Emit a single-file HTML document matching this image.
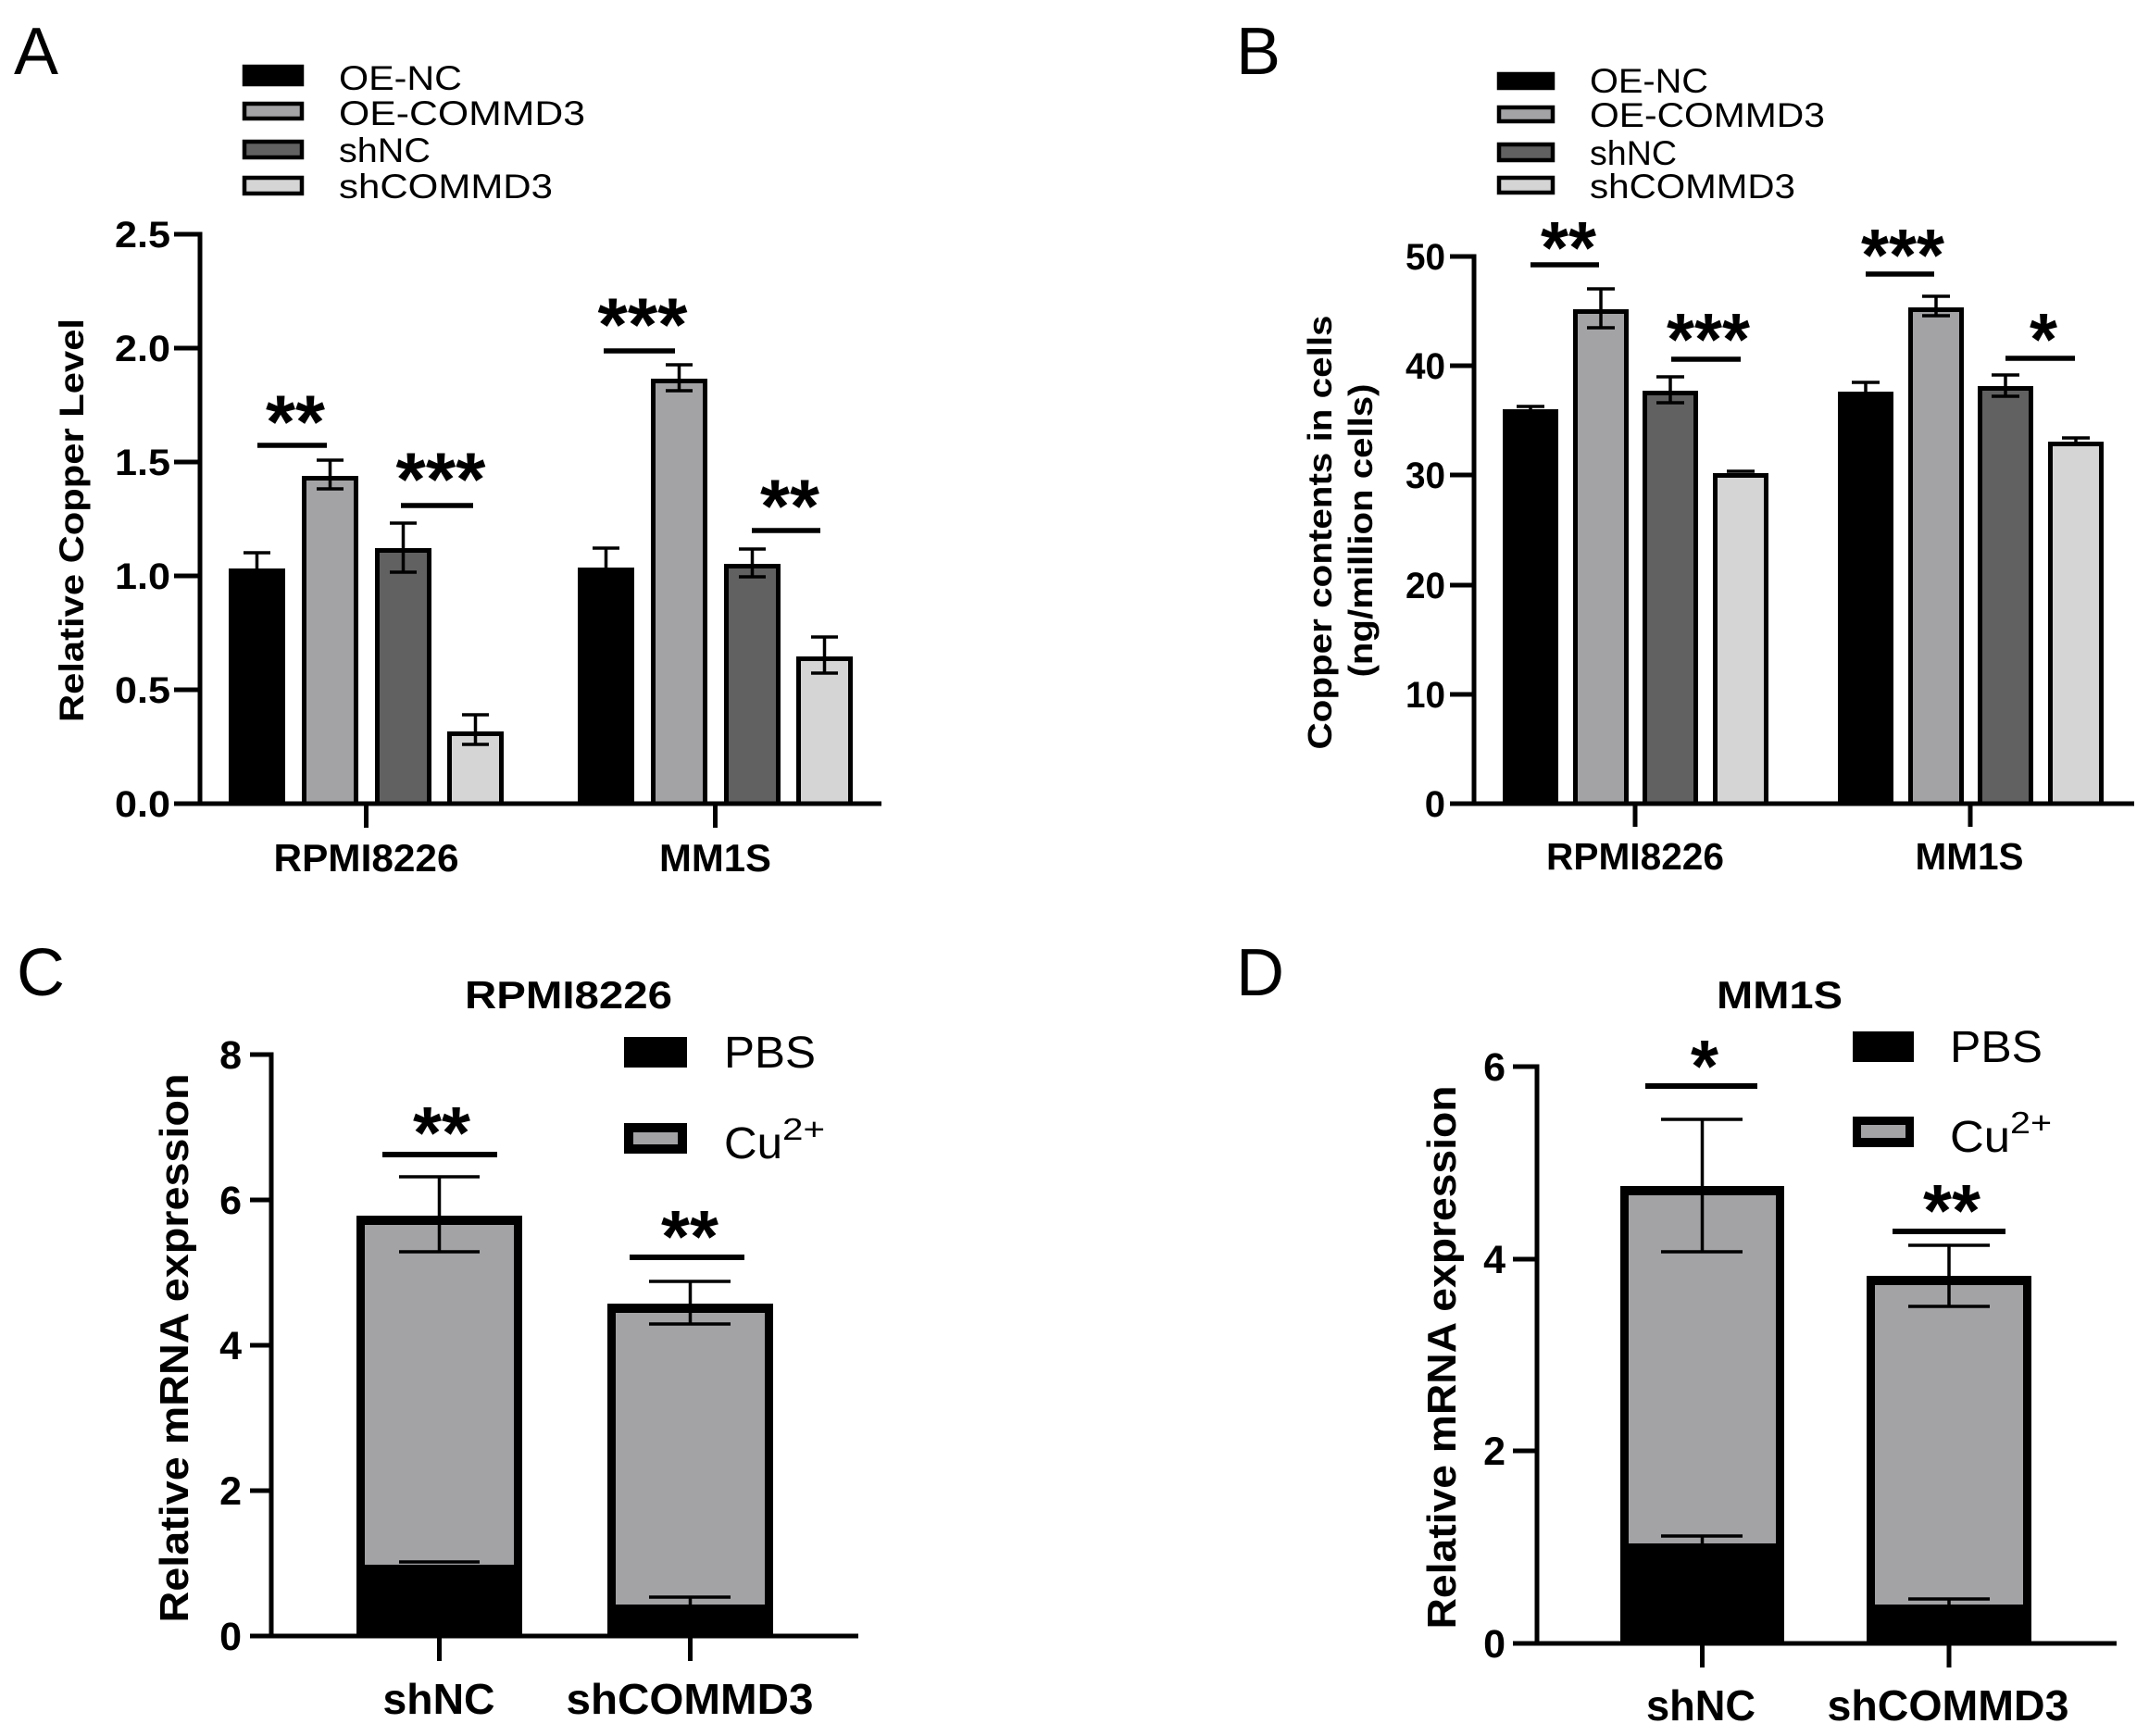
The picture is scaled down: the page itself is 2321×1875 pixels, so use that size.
<!DOCTYPE html>
<html>
<head>
<meta charset="utf-8">
<style>
html,body{margin:0;padding:0;background:#fff;}
svg{display:block;}
text{font-family:"Liberation Sans",Arial,sans-serif;fill:#000;}
.b{font-weight:bold;}
</style>
</head>
<body>
<svg width="2321" height="1875" viewBox="0 0 2321 1875" xmlns="http://www.w3.org/2000/svg">
<rect x="0" y="0" width="2321" height="1875" fill="#fff"/>

<!-- ================= PANEL A ================= -->
<text x="15" y="80" font-size="72">A</text>
<rect x="264" y="72" width="62" height="19" fill="#000" stroke="#000" stroke-width="4.5"/>
<rect x="264" y="112" width="62" height="16" fill="#a3a3a6" stroke="#000" stroke-width="4.5"/>
<rect x="264" y="153" width="62" height="17" fill="#616161" stroke="#000" stroke-width="4.5"/>
<rect x="264" y="192" width="62" height="17" fill="#d5d5d5" stroke="#000" stroke-width="4.5"/>
<text x="366" y="97" font-size="37" textLength="133" lengthAdjust="spacingAndGlyphs">OE-NC</text>
<text x="366" y="135" font-size="37" textLength="266" lengthAdjust="spacingAndGlyphs">OE-COMMD3</text>
<text x="366" y="175" font-size="37" textLength="99" lengthAdjust="spacingAndGlyphs">shNC</text>
<text x="366" y="214" font-size="37" textLength="231" lengthAdjust="spacingAndGlyphs">shCOMMD3</text>

<text class="b" font-size="37" text-anchor="middle" textLength="436" lengthAdjust="spacingAndGlyphs" transform="translate(90,562) rotate(-90)">Relative Copper Level</text>

<g stroke="#000" stroke-width="5" fill="none">
<line x1="216" y1="250.5" x2="216" y2="870.5"/>
<line x1="188" y1="868" x2="952" y2="868"/>
<line x1="188" y1="745" x2="216" y2="745"/>
<line x1="188" y1="622" x2="216" y2="622"/>
<line x1="188" y1="499" x2="216" y2="499"/>
<line x1="188" y1="376" x2="216" y2="376"/>
<line x1="188" y1="253" x2="216" y2="253"/>
<line x1="395.5" y1="868" x2="395.5" y2="894"/>
<line x1="772.5" y1="868" x2="772.5" y2="894"/>
</g>
<g class="b" font-size="40" text-anchor="end">
<text x="184" y="882" textLength="60" lengthAdjust="spacingAndGlyphs">0.0</text>
<text x="184" y="759" textLength="60" lengthAdjust="spacingAndGlyphs">0.5</text>
<text x="184" y="636" textLength="60" lengthAdjust="spacingAndGlyphs">1.0</text>
<text x="184" y="513" textLength="60" lengthAdjust="spacingAndGlyphs">1.5</text>
<text x="184" y="390" textLength="60" lengthAdjust="spacingAndGlyphs">2.0</text>
<text x="184" y="267" textLength="60" lengthAdjust="spacingAndGlyphs">2.5</text>
</g>
<text class="b" x="395.5" y="941" font-size="42" text-anchor="middle" textLength="200" lengthAdjust="spacingAndGlyphs">RPMI8226</text>
<text class="b" x="772.5" y="941" font-size="42" text-anchor="middle" textLength="121" lengthAdjust="spacingAndGlyphs">MM1S</text>

<g stroke="#000" stroke-width="5">
<rect x="249.5" y="616.5" width="56" height="251.5" fill="#000"/>
<rect x="328.5" y="516.5" width="56" height="351.5" fill="#a3a3a6"/>
<rect x="407.5" y="594.5" width="56" height="273.5" fill="#616161"/>
<rect x="485.5" y="792.5" width="56" height="75.5" fill="#d5d5d5"/>
<rect x="626.5" y="615.5" width="56" height="252.5" fill="#000"/>
<rect x="705.5" y="411.5" width="56" height="456.5" fill="#a3a3a6"/>
<rect x="784.5" y="611.5" width="56" height="256.5" fill="#616161"/>
<rect x="862.5" y="711.5" width="56" height="156.5" fill="#d5d5d5"/>
</g>
<g stroke="#000" stroke-width="3.5" fill="none">
<line x1="277.5" y1="597" x2="277.5" y2="616"/><line x1="263" y1="597" x2="292" y2="597"/>
<line x1="356.5" y1="497" x2="356.5" y2="528"/><line x1="342" y1="497" x2="371" y2="497"/><line x1="342" y1="528" x2="371" y2="528"/>
<line x1="435.5" y1="565" x2="435.5" y2="618"/><line x1="421" y1="565" x2="450" y2="565"/><line x1="421" y1="618" x2="450" y2="618"/>
<line x1="513.5" y1="772" x2="513.5" y2="804"/><line x1="499" y1="772" x2="528" y2="772"/><line x1="499" y1="804" x2="528" y2="804"/>
<line x1="654.5" y1="592" x2="654.5" y2="615"/><line x1="640" y1="592" x2="669" y2="592"/>
<line x1="733.5" y1="394" x2="733.5" y2="422"/><line x1="719" y1="394" x2="748" y2="394"/><line x1="719" y1="422" x2="748" y2="422"/>
<line x1="812.5" y1="593" x2="812.5" y2="623"/><line x1="798" y1="593" x2="827" y2="593"/><line x1="798" y1="623" x2="827" y2="623"/>
<line x1="890.5" y1="688" x2="890.5" y2="727"/><line x1="876" y1="688" x2="905" y2="688"/><line x1="876" y1="727" x2="905" y2="727"/>
</g>
<g stroke="#000" stroke-width="5.5">
<line x1="278" y1="481" x2="353" y2="481"/>
<line x1="433" y1="546" x2="511" y2="546"/>
<line x1="652" y1="379" x2="729" y2="379"/>
<line x1="812" y1="573" x2="886" y2="573"/>
</g>
<g class="b" font-size="82" text-anchor="middle">
<text x="319" y="484" textLength="64" lengthAdjust="spacingAndGlyphs">**</text>
<text x="476" y="546" textLength="97" lengthAdjust="spacingAndGlyphs">***</text>
<text x="694" y="379" textLength="97" lengthAdjust="spacingAndGlyphs">***</text>
<text x="853" y="575" textLength="64" lengthAdjust="spacingAndGlyphs">**</text>
</g>

<!-- ================= PANEL B ================= -->
<text x="1335" y="80" font-size="72">B</text>
<rect x="1619" y="80" width="58" height="15" fill="#000" stroke="#000" stroke-width="4.5"/>
<rect x="1619" y="116" width="58" height="15" fill="#a3a3a6" stroke="#000" stroke-width="4.5"/>
<rect x="1619" y="156" width="58" height="17" fill="#616161" stroke="#000" stroke-width="4.5"/>
<rect x="1619" y="192" width="58" height="16" fill="#d5d5d5" stroke="#000" stroke-width="4.5"/>
<text x="1717" y="100" font-size="37" textLength="128" lengthAdjust="spacingAndGlyphs">OE-NC</text>
<text x="1717" y="137" font-size="37" textLength="254" lengthAdjust="spacingAndGlyphs">OE-COMMD3</text>
<text x="1717" y="178" font-size="37" textLength="94" lengthAdjust="spacingAndGlyphs">shNC</text>
<text x="1717" y="214" font-size="37" textLength="222" lengthAdjust="spacingAndGlyphs">shCOMMD3</text>

<text class="b" font-size="36" text-anchor="middle" textLength="469" lengthAdjust="spacingAndGlyphs" transform="translate(1438,575) rotate(-90)">Copper contents in cells</text>
<text class="b" font-size="36" text-anchor="middle" textLength="317" lengthAdjust="spacingAndGlyphs" transform="translate(1482,573) rotate(-90)">(ng/million cells)</text>

<g stroke="#000" stroke-width="5" fill="none">
<line x1="1592" y1="274.5" x2="1592" y2="870.5"/>
<line x1="1566" y1="868" x2="2305" y2="868"/>
<line x1="1566" y1="750" x2="1592" y2="750"/>
<line x1="1566" y1="632" x2="1592" y2="632"/>
<line x1="1566" y1="513" x2="1592" y2="513"/>
<line x1="1566" y1="395" x2="1592" y2="395"/>
<line x1="1566" y1="277" x2="1592" y2="277"/>
<line x1="1766" y1="868" x2="1766" y2="893"/>
<line x1="2128" y1="868" x2="2128" y2="893"/>
</g>
<g class="b" font-size="40" text-anchor="end">
<text x="1561" y="882">0</text>
<text x="1561" y="764" textLength="43" lengthAdjust="spacingAndGlyphs">10</text>
<text x="1561" y="646" textLength="43" lengthAdjust="spacingAndGlyphs">20</text>
<text x="1561" y="527" textLength="43" lengthAdjust="spacingAndGlyphs">30</text>
<text x="1561" y="409" textLength="43" lengthAdjust="spacingAndGlyphs">40</text>
<text x="1561" y="291" textLength="43" lengthAdjust="spacingAndGlyphs">50</text>
</g>
<text class="b" x="1766" y="939" font-size="41" text-anchor="middle" textLength="192" lengthAdjust="spacingAndGlyphs">RPMI8226</text>
<text class="b" x="2127" y="939" font-size="41" text-anchor="middle" textLength="117" lengthAdjust="spacingAndGlyphs">MM1S</text>

<g stroke="#000" stroke-width="5">
<rect x="1625.5" y="444.5" width="55" height="423.5" fill="#000"/>
<rect x="1701.5" y="336.5" width="55" height="531.5" fill="#a3a3a6"/>
<rect x="1776.5" y="424.5" width="55" height="443.5" fill="#616161"/>
<rect x="1852.5" y="513.5" width="55" height="354.5" fill="#d5d5d5"/>
<rect x="1987.5" y="425.5" width="55" height="442.5" fill="#000"/>
<rect x="2063.5" y="334.5" width="55" height="533.5" fill="#a3a3a6"/>
<rect x="2138.5" y="419.5" width="55" height="448.5" fill="#616161"/>
<rect x="2214.5" y="479.5" width="55" height="388.5" fill="#d5d5d5"/>
</g>
<g stroke="#000" stroke-width="3.5" fill="none">
<line x1="1653" y1="439" x2="1653" y2="444"/><line x1="1638" y1="439" x2="1668" y2="439"/>
<line x1="1729" y1="312" x2="1729" y2="354"/><line x1="1714" y1="312" x2="1744" y2="312"/><line x1="1714" y1="354" x2="1744" y2="354"/>
<line x1="1804" y1="407" x2="1804" y2="435"/><line x1="1789" y1="407" x2="1819" y2="407"/><line x1="1789" y1="435" x2="1819" y2="435"/>
<line x1="1865" y1="509" x2="1895" y2="509"/>
<line x1="2015" y1="413" x2="2015" y2="425"/><line x1="2000" y1="413" x2="2030" y2="413"/>
<line x1="2091" y1="320" x2="2091" y2="341"/><line x1="2076" y1="320" x2="2106" y2="320"/><line x1="2076" y1="341" x2="2106" y2="341"/>
<line x1="2166" y1="405" x2="2166" y2="428"/><line x1="2151" y1="405" x2="2181" y2="405"/><line x1="2151" y1="428" x2="2181" y2="428"/>
<line x1="2242" y1="473" x2="2242" y2="479"/><line x1="2227" y1="473" x2="2257" y2="473"/>
</g>
<g stroke="#000" stroke-width="5.5">
<line x1="1653" y1="286" x2="1727" y2="286"/>
<line x1="1805" y1="388" x2="1880" y2="388"/>
<line x1="2015" y1="296" x2="2089" y2="296"/>
<line x1="2166" y1="387" x2="2241" y2="387"/>
</g>
<g class="b" font-size="80" text-anchor="middle">
<text x="1694" y="295" textLength="60" lengthAdjust="spacingAndGlyphs">**</text>
<text x="1845" y="394" textLength="90" lengthAdjust="spacingAndGlyphs">***</text>
<text x="2055" y="303" textLength="90" lengthAdjust="spacingAndGlyphs">***</text>
<text x="2207" y="394" textLength="30" lengthAdjust="spacingAndGlyphs">*</text>
</g>

<!-- ================= PANEL C ================= -->
<text x="18" y="1075" font-size="72">C</text>
<text class="b" x="614" y="1089" font-size="42" text-anchor="middle" textLength="224" lengthAdjust="spacingAndGlyphs">RPMI8226</text>
<rect x="674" y="1120" width="68" height="33" fill="#000"/>
<rect x="674" y="1213" width="68" height="33" fill="#000"/>
<rect x="684" y="1223" width="48" height="13" fill="#a3a3a6"/>
<text x="782" y="1153" font-size="48" textLength="99" lengthAdjust="spacingAndGlyphs">PBS</text>
<text x="782" y="1251" font-size="48" textLength="63" lengthAdjust="spacingAndGlyphs">Cu</text>
<text x="845" y="1231" font-size="33" textLength="46" lengthAdjust="spacingAndGlyphs">2+</text>

<text class="b" font-size="44" text-anchor="middle" textLength="593" lengthAdjust="spacingAndGlyphs" transform="translate(203,1456) rotate(-90)">Relative mRNA expression</text>

<g stroke="#000" stroke-width="5" fill="none">
<line x1="293" y1="1136.5" x2="293" y2="1769.5"/>
<line x1="270" y1="1767" x2="927" y2="1767"/>
<line x1="270" y1="1610" x2="293" y2="1610"/>
<line x1="270" y1="1453" x2="293" y2="1453"/>
<line x1="270" y1="1296" x2="293" y2="1296"/>
<line x1="270" y1="1139" x2="293" y2="1139"/>
<line x1="474.5" y1="1767" x2="474.5" y2="1794"/>
<line x1="745.5" y1="1767" x2="745.5" y2="1794"/>
</g>
<g class="b" font-size="43" text-anchor="end">
<text x="261" y="1782">0</text>
<text x="261" y="1625">2</text>
<text x="261" y="1468">4</text>
<text x="261" y="1311">6</text>
<text x="261" y="1154">8</text>
</g>
<text class="b" x="474" y="1851" font-size="46" text-anchor="middle" textLength="121" lengthAdjust="spacingAndGlyphs">shNC</text>
<text class="b" x="745" y="1851" font-size="46" text-anchor="middle" textLength="267" lengthAdjust="spacingAndGlyphs">shCOMMD3</text>

<rect x="385" y="1313" width="179" height="454" fill="#000"/>
<rect x="394" y="1323" width="161" height="367" fill="#a3a3a6"/>
<rect x="656" y="1408" width="179" height="359" fill="#000"/>
<rect x="665" y="1418" width="161" height="315" fill="#a3a3a6"/>
<g stroke="#000" stroke-width="3.5" fill="none">
<line x1="474.5" y1="1271" x2="474.5" y2="1352"/><line x1="431" y1="1271" x2="518" y2="1271"/><line x1="431" y1="1352" x2="518" y2="1352"/>
<line x1="431" y1="1687" x2="518" y2="1687"/>
<line x1="745.5" y1="1384" x2="745.5" y2="1430"/><line x1="701" y1="1384" x2="789" y2="1384"/><line x1="701" y1="1430" x2="789" y2="1430"/>
<line x1="745.5" y1="1725" x2="745.5" y2="1733"/><line x1="701" y1="1725" x2="789" y2="1725"/>
</g>
<g stroke="#000" stroke-width="6">
<line x1="413" y1="1247" x2="537" y2="1247"/>
<line x1="680" y1="1358" x2="804" y2="1358"/>
</g>
<g class="b" font-size="80" text-anchor="middle">
<text x="477" y="1251" textLength="62" lengthAdjust="spacingAndGlyphs">**</text>
<text x="745" y="1363" textLength="62" lengthAdjust="spacingAndGlyphs">**</text>
</g>

<!-- ================= PANEL D ================= -->
<text x="1335" y="1075" font-size="72">D</text>
<text class="b" x="1922" y="1089" font-size="42" text-anchor="middle" textLength="136" lengthAdjust="spacingAndGlyphs">MM1S</text>
<rect x="2001" y="1114" width="66" height="33" fill="#000"/>
<rect x="2001" y="1206" width="66" height="33" fill="#000"/>
<rect x="2010" y="1215" width="48" height="14" fill="#a3a3a6"/>
<text x="2106" y="1147" font-size="48" textLength="100" lengthAdjust="spacingAndGlyphs">PBS</text>
<text x="2106" y="1244" font-size="48" textLength="65" lengthAdjust="spacingAndGlyphs">Cu</text>
<text x="2171" y="1224" font-size="33" textLength="45" lengthAdjust="spacingAndGlyphs">2+</text>

<text class="b" font-size="44" text-anchor="middle" textLength="587" lengthAdjust="spacingAndGlyphs" transform="translate(1572,1466) rotate(-90)">Relative mRNA expression</text>

<g stroke="#000" stroke-width="5" fill="none">
<line x1="1660" y1="1149.5" x2="1660" y2="1777.5"/>
<line x1="1634" y1="1775" x2="2286" y2="1775"/>
<line x1="1634" y1="1567" x2="1660" y2="1567"/>
<line x1="1634" y1="1360" x2="1660" y2="1360"/>
<line x1="1634" y1="1152" x2="1660" y2="1152"/>
<line x1="1838.5" y1="1775" x2="1838.5" y2="1801"/>
<line x1="2105" y1="1775" x2="2105" y2="1801"/>
</g>
<g class="b" font-size="43" text-anchor="end">
<text x="1626" y="1790">0</text>
<text x="1626" y="1582">2</text>
<text x="1626" y="1375">4</text>
<text x="1626" y="1167">6</text>
</g>
<text class="b" x="1837" y="1858" font-size="46" text-anchor="middle" textLength="118" lengthAdjust="spacingAndGlyphs">shNC</text>
<text class="b" x="2104" y="1858" font-size="46" text-anchor="middle" textLength="261" lengthAdjust="spacingAndGlyphs">shCOMMD3</text>

<rect x="1750" y="1281" width="177" height="494" fill="#000"/>
<rect x="1759" y="1291" width="159" height="376" fill="#a3a3a6"/>
<rect x="2016" y="1378" width="178" height="397" fill="#000"/>
<rect x="2025" y="1388" width="160" height="345" fill="#a3a3a6"/>
<g stroke="#000" stroke-width="3.5" fill="none">
<line x1="1838.5" y1="1209" x2="1838.5" y2="1352"/><line x1="1794" y1="1209" x2="1882" y2="1209"/><line x1="1794" y1="1352" x2="1882" y2="1352"/>
<line x1="1838.5" y1="1659" x2="1838.5" y2="1667"/><line x1="1794" y1="1659" x2="1882" y2="1659"/>
<line x1="2105" y1="1345" x2="2105" y2="1411"/><line x1="2061" y1="1345" x2="2149" y2="1345"/><line x1="2061" y1="1411" x2="2149" y2="1411"/>
<line x1="2105" y1="1727" x2="2105" y2="1733"/><line x1="2061" y1="1727" x2="2149" y2="1727"/>
</g>
<g stroke="#000" stroke-width="6">
<line x1="1777" y1="1173" x2="1898" y2="1173"/>
<line x1="2044" y1="1330" x2="2166" y2="1330"/>
</g>
<g class="b" font-size="80" text-anchor="middle">
<text x="1841" y="1179" textLength="30" lengthAdjust="spacingAndGlyphs">*</text>
<text x="2108" y="1335" textLength="62" lengthAdjust="spacingAndGlyphs">**</text>
</g>
</svg>
</body>
</html>
